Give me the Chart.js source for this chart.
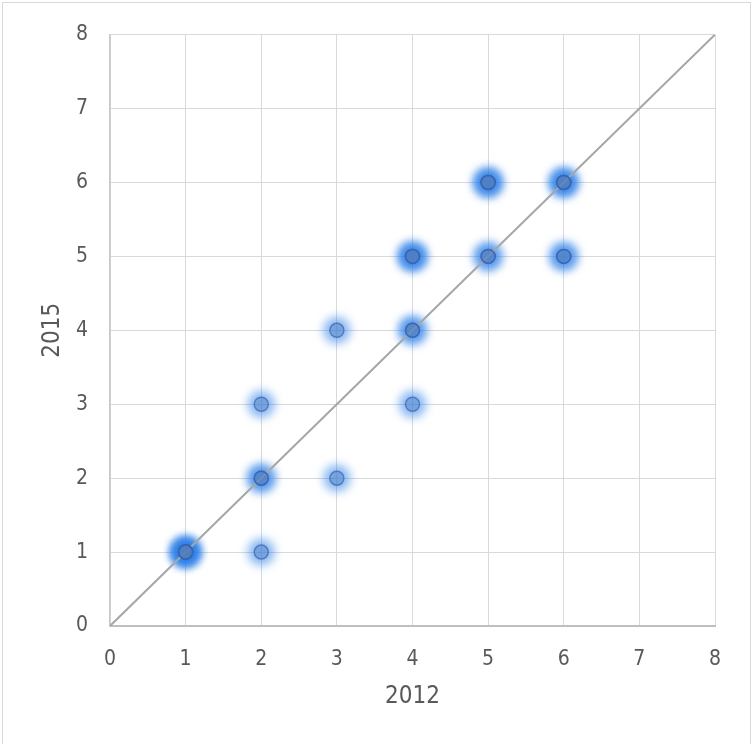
<!DOCTYPE html>
<html>
<head>
<meta charset="utf-8">
<script src="https://cdn.jsdelivr.net/npm/chart.js@4"></script>
<style>
  html, body { margin: 0; padding: 0; background: #ffffff; }
  #wrap { width: 752px; height: 744px; position: relative; }
</style>
</head>
<body>
<div id="wrap"><canvas id="c" width="752" height="744"></canvas></div>
<script>
// Rank of each item in 2012 and in 2015 (repeated pairs stack on top of each other)
const rank2012 = [1,1,1,1,1, 2, 2,2, 2, 3, 3, 4, 4,4, 4,4,4, 5,5, 5,5,5, 6,6, 6,6,6];
const rank2015 = [1,1,1,1,1, 1, 2,2, 3, 2, 4, 3, 4,4, 5,5,5, 5,5, 6,6,6, 5,5, 6,6,6];
// Diagonal reference line (same rank in both years)
const diagonal = [0, 8];
const axisTicks = [0, 1, 2, 3, 4, 5, 6, 7, 8];

const points = rank2012.map((x, i) => ({ x: x, y: rank2015[i] }));
const diagPoints = diagonal.map(v => ({ x: v, y: v }));

const FONT = "'DejaVu Sans Condensed', 'DejaVu Sans', sans-serif";
const TEXT = '#595959';

// Soft blue halo behind the markers
const glowPlugin = {
  id: 'glow',
  beforeDatasetDraw(chart, args) {
    if (chart.data.datasets[args.index].isGlow) {
      chart.ctx.save();
      chart.ctx.filter = 'blur(5px)';
    }
  },
  afterDatasetDraw(chart, args) {
    if (chart.data.datasets[args.index].isGlow) {
      chart.ctx.restore();
    }
  }
};

// Light frame around the whole chart
const framePlugin = {
  id: 'frame',
  beforeDraw(chart) {
    const ctx = chart.ctx;
    ctx.save();
    ctx.fillStyle = '#ffffff';
    ctx.fillRect(0, 0, chart.width, chart.height);
    ctx.strokeStyle = '#d9d9d9';
    ctx.lineWidth = 1;
    ctx.strokeRect(2.5, 2.5, chart.width - 4, chart.height + 4);
    ctx.restore();
  }
};

new Chart(document.getElementById('c'), {
  type: 'scatter',
  data: {
    datasets: [
      {
        label: 'halo',
        isGlow: true,
        data: points,
        pointRadius: 13.5,
        pointBackgroundColor: 'rgba(38, 124, 232, 0.55)',
        pointBorderWidth: 0,
        order: 3
      },
      {
        label: 'diagonal',
        data: diagPoints,
        showLine: true,
        borderColor: '#a6a6a6',
        borderWidth: 2,
        pointRadius: 0,
        fill: false,
        order: 2
      },
      {
        label: '2012 vs 2015',
        data: points,
        pointRadius: 7,
        pointBackgroundColor: 'rgba(85, 125, 190, 0.38)',
        pointBorderColor: 'rgba(55, 100, 175, 0.7)',
        pointBorderWidth: 1.5,
        order: 1
      }
    ]
  },
  options: {
    responsive: false,
    animation: false,
    events: [],
    layout: { padding: { top: 32, right: 37, left: 0, bottom: 0 } },
    plugins: {
      legend: { display: false },
      tooltip: { enabled: false }
    },
    scales: {
      x: {
        type: 'linear',
        min: 0,
        max: 8,
        afterBuildTicks(scale) { scale.ticks = axisTicks.map(v => ({ value: v })); },
        afterFit(scale) { scale.height = 118; },
        grid: { color: '#d9d9d9', lineWidth: 1, drawTicks: false },
        border: { color: '#bfbfbf', width: 2 },
        ticks: { color: TEXT, font: { family: FONT, size: 21 }, padding: 21 },
        title: {
          display: true,
          text: '2012',
          color: TEXT,
          font: { family: FONT, size: 24 },
          padding: { top: 0, bottom: 33 }
        }
      },
      y: {
        type: 'linear',
        min: 0,
        max: 8,
        afterBuildTicks(scale) { scale.ticks = axisTicks.map(v => ({ value: v })); },
        afterFit(scale) { scale.width = 110; },
        grid: { color: '#d9d9d9', lineWidth: 1, drawTicks: false },
        border: { color: '#c8c8c8', width: 1.5 },
        ticks: { color: TEXT, font: { family: FONT, size: 21 }, padding: 22 },
        title: {
          display: true,
          text: '2015',
          color: TEXT,
          font: { family: FONT, size: 24 },
          padding: { top: 38, bottom: 0 }
        }
      }
    }
  },
  plugins: [framePlugin, glowPlugin]
});
</script>
</body>
</html>
